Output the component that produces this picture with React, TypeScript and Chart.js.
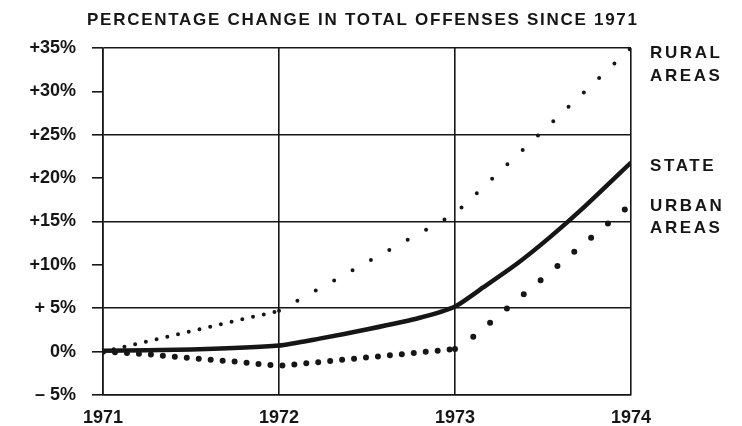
import React, { useEffect, useRef } from 'react';
import { Chart, registerables } from 'chart.js';

Chart.register(...registerables);

// ---- data ----
const years = [1971, 1972, 1973, 1974];
const xTickLabels = ['1971', '1972', '1973', '1974'];
const yTickValues = [-5, 0, 5, 10, 15, 20, 25, 30, 35];
const yTickLabels = ['– 5%', '0%', '+ 5%', '+10%', '+15%', '+20%', '+25%', '+30%', '+35%'];
const fullGridValues = [-5, 5, 15, 25, 35];

const ruralX = [1971, 1972, 1973, 1974];
const ruralY = [0, 4.7, 15.9, 35];

const stateX = [1971, 1971.5, 1972, 1972.23, 1972.51, 1972.8, 1973, 1973.16, 1973.35, 1973.54, 1973.73, 1974];
const stateY = [0.1, 0.25, 0.7, 1.5, 2.6, 3.9, 5.2, 7.4, 10.1, 13.2, 16.6, 21.8];

const urbanX = [1971, 1971.25, 1971.5, 1971.75, 1972, 1973, 1973.08, 1974];
const urbanY = [0, -0.3, -0.75, -1.15, -1.65, 0.3, 1.3, 17];

const chartTitle = 'PERCENTAGE CHANGE IN TOTAL OFFENSES SINCE 1971';
const seriesLabels = [['RURAL', 'AREAS'], ['STATE'], ['URBAN', 'AREAS']];

const INK = '#161616';
const FONT = "'Liberation Sans', Arial, sans-serif";

const pts = (xs: number[], ys: number[]) => xs.map((x, i) => ({ x, y: ys[i] }));

const textPlugin = {
  id: 'textPlugin',
  afterDraw(chart: any) {
    const { ctx, chartArea } = chart;
    ctx.save();
    ctx.fillStyle = INK;
    ctx.textBaseline = 'middle';
    // title
    ctx.font = `bold 17px ${FONT}`;
    ctx.letterSpacing = '0px';
    const w0 = ctx.measureText(chartTitle).width;
    const target = 550;
    const ls = (target - w0) / (chartTitle.length - 1);
    ctx.letterSpacing = `${ls}px`;
    ctx.textAlign = 'left';
    ctx.fillText(chartTitle, 87, 20);
    // series labels
    ctx.font = `bold 17px ${FONT}`;
    ctx.letterSpacing = '2.6px';
    const x = chartArea.right + 19;
    const offs = [[5.5, 28.5], [118], [158.5, 180.5]];
    seriesLabels.forEach((lines, i) => {
      lines.forEach((t, j) => {
        ctx.fillText(t, x, chartArea.top + offs[i][j]);
      });
    });
    ctx.restore();
  },
};

export default function App() {
  const ref = useRef<HTMLCanvasElement | null>(null);
  useEffect(() => {
    document.body.style.margin = '0';
    const canvas = ref.current!;
    const chart = new Chart(canvas, {
      type: 'line',
      data: {
        datasets: [
          {
            label: 'Rural Areas',
            data: pts(ruralX, ruralY),
            borderColor: INK,
            borderWidth: 4,
            borderCapStyle: 'round',
            pointRadius: 0,
            tension: 0,
            segment: {
              borderDash: (c: any) => (c.p0.parsed.x >= 1972 ? [0, 21] : [0, 11]),
            },
          },
          {
            label: 'State',
            data: pts(stateX, stateY),
            borderColor: INK,
            borderWidth: 4.5,
            pointRadius: 0,
            tension: 0.2,
          },
          {
            label: 'State inner',
            data: pts(stateX, stateY),
            borderColor: 'rgba(225,225,225,0.9)',
            borderWidth: 1,
            pointRadius: 0,
            tension: 0.2,
            segment: {
              borderColor: (c: any) => (c.p0.parsed.x >= 1972.8 ? 'rgba(225,225,225,0.9)' : 'rgba(0,0,0,0)'),
            },
          },
          {
            label: 'Urban Areas',
            data: pts(urbanX, urbanY),
            borderColor: INK,
            borderWidth: 6,
            borderCapStyle: 'round',
            pointRadius: 0,
            tension: 0,
            segment: {
              borderDash: (c: any) => (c.p0.parsed.x >= 1973 ? [0, 22] : [0, 12]),
            },
          },
        ],
      },
      options: {
        responsive: false,
        animation: false,
        layout: { padding: { top: 48, right: 111, left: 0, bottom: 0 } },
        plugins: { legend: { display: false }, tooltip: { enabled: false }, title: { display: false } },
        scales: {
          x: {
            type: 'linear',
            min: 1971,
            max: 1974,
            afterBuildTicks: (s: any) => {
              s.ticks = years.map((v) => ({ value: v }));
            },
            afterFit: (s: any) => {
              s.height = 31;
            },
            ticks: {
              callback: (v: any) => xTickLabels[years.indexOf(Number(v))] ?? '',
              color: INK,
              font: { family: FONT, size: 18, weight: 'bold' },
              padding: 12,
              maxRotation: 0,
            },
            grid: { color: INK, lineWidth: 1.6, drawTicks: false },
            border: { display: true, color: INK, width: 1.6 },
          },
          y: {
            type: 'linear',
            min: -5,
            max: 35,
            afterBuildTicks: (s: any) => {
              s.ticks = yTickValues.map((v) => ({ value: v }));
            },
            afterFit: (s: any) => {
              s.width = 103;
            },
            ticks: {
              callback: (v: any) => yTickLabels[yTickValues.indexOf(Number(v))] ?? '',
              color: INK,
              font: { family: FONT, size: 18, weight: 'bold' },
              padding: 16,
            },
            grid: {
              color: (c: any) => (c.tick && fullGridValues.includes(c.tick.value) ? INK : 'rgba(0,0,0,0)'),
              tickColor: INK,
              lineWidth: 1.6,
              tickLength: 11,
            },
            border: { display: true, color: INK, width: 1.6 },
          },
        },
      },
      plugins: [textPlugin],
    } as any);
    return () => chart.destroy();
  }, []);
  return (
    <div style={{ width: 742, height: 426, background: '#fff' }}>
      <canvas ref={ref} width={742} height={426} style={{ display: 'block' }} />
    </div>
  );
}
